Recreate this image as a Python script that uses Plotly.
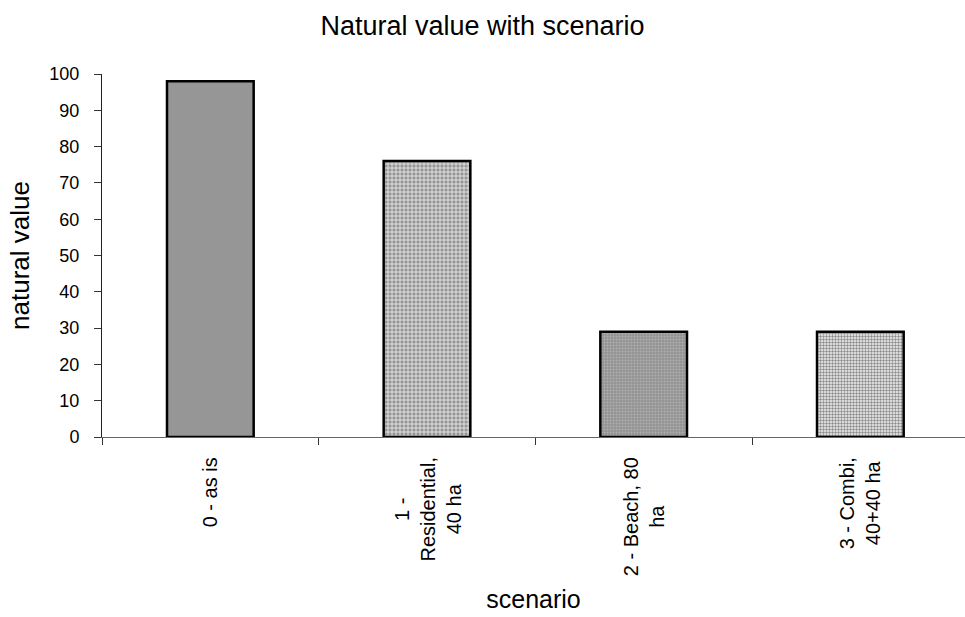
import plotly.graph_objects as go

# Scenario results
categories = ["0 - as is", "1 -<br>Residential,<br>40 ha", "2 - Beach, 80<br>ha", "3 - Combi,<br>40+40 ha"]
natural_value = [98, 76, 29, 29]
y_ticks = [0, 10, 20, 30, 40, 50, 60, 70, 80, 90, 100]

FONT = "Liberation Sans, Arial, sans-serif"

# Per-bar fill styles (solid, grid, fine dots, light checker)
pattern_shapes = ["", "+", ".", "."]
pattern_fg = ["#969696", "#ffffff", "#b0b0b0", "#8a8a8a"]
pattern_bg = ["#969696", "#959595", "#939393", "#f4f4f4"]
pattern_size = [4, 4, 3, 3]
pattern_solid = [0.3, 0.3, 0.35, 0.5]

idx = list(range(len(categories)))

fig = go.Figure()
fig.add_trace(go.Bar(
    x=idx,
    y=natural_value,
    width=0.40,
    marker=dict(
        color="#969696",
        line=dict(color="#000000", width=2.5),
        pattern=dict(shape=pattern_shapes, fgcolor=pattern_fg, bgcolor=pattern_bg,
                     size=pattern_size, solidity=pattern_solid, fillmode="replace"),
    ),
    showlegend=False,
    hoverinfo="x+y",
))

# Category labels, rotated and centred line by line
for i, lab in zip(idx, categories):
    fig.add_annotation(
        x=i, xref="x", y=-0.0496, yref="paper",
        text=lab, textangle=-90, showarrow=False,
        xanchor="center", yanchor="top", align="center",
        font=dict(family=FONT, size=20, color="#000000"),
    )

xr = [-0.5, 3.483]

fig.update_layout(
    width=965, height=617,
    margin=dict(l=102, r=0, t=74, b=180),
    paper_bgcolor="#ffffff", plot_bgcolor="#ffffff",
    font=dict(family=FONT, color="#000000"),
    title=dict(text="Natural value with scenario", x=0.5, xanchor="center",
               y=1 - 26 / 617, yanchor="middle",
               font=dict(family=FONT, size=27, color="#000000")),
    xaxis=dict(
        range=xr, tickmode="linear", tick0=-0.5, dtick=1,
        showticklabels=False, ticks="outside", ticklen=7, tickwidth=1, tickcolor="#333333",
        showline=True, linecolor="#666666", linewidth=1, showgrid=False, zeroline=False,
        title=dict(text="scenario", standoff=146, font=dict(family=FONT, size=25)),
    ),
    xaxis2=dict(
        range=xr, overlaying="x", anchor="y", tickmode="linear", tick0=-0.5, dtick=1,
        showticklabels=False, ticks="inside", ticklen=7, tickwidth=1, tickcolor="#333333",
        showline=False, showgrid=False, zeroline=False,
    ),
    yaxis=dict(
        range=[0, 100], tickmode="array", tickvals=y_ticks,
        ticks="outside", ticklen=7, tickwidth=1, tickcolor="#333333",
        ticklabelstandoff=11,
        tickfont=dict(family=FONT, size=18, color="#000000"),
        showline=True, linecolor="#222222", linewidth=1, showgrid=False, zeroline=False,
        title=dict(text="natural value", standoff=12, font=dict(family=FONT, size=26)),
    ),
    yaxis2=dict(
        range=[0, 100], overlaying="y", anchor="x", side="left", tickmode="array", tickvals=y_ticks,
        ticks="inside", ticklen=7, tickwidth=1, tickcolor="#333333",
        showticklabels=False, showline=False, showgrid=False, zeroline=False,
    ),
)

fig.write_html("out.html")
